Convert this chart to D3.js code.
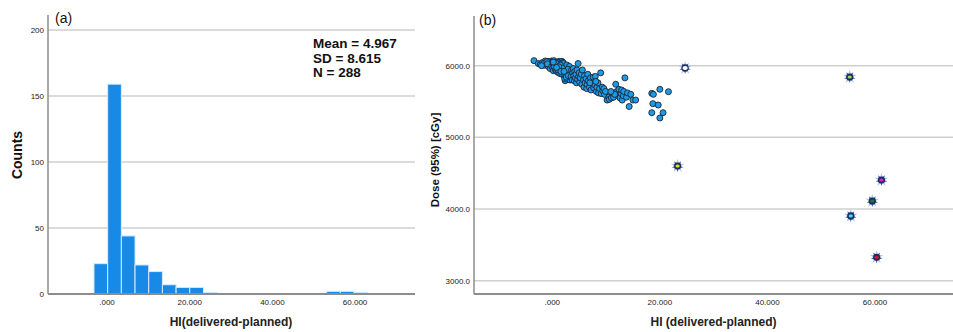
<!DOCTYPE html>
<html><head><meta charset="utf-8">
<script src="https://cdn.jsdelivr.net/npm/d3@7"></script>
<style>body{margin:0;background:#fff}svg{display:block}text{font-family:"Liberation Sans",Arial,sans-serif}</style>
</head><body>
<svg id="c" width="953" height="332"></svg>
<script>
// ---------- Data ----------
// Histogram (a)
const binStart = -3.15, binWidth = 3.31;
const binIndex  = [0, 1, 2, 3, 4, 5, 6, 7, 8, 17, 18, 19];
const binCounts = [23, 159, 44, 22, 17, 7, 5, 5, 1, 2, 2, 1];
const histYTicks = [0, 50, 100, 150, 200];
const xTicks = [0, 20, 40, 60];
const xTickLabels = [".000", "20.000", "40.000", "60.000"];
const statLines = ["Mean = 4.967", "SD = 8.615", "N = 288"];

// Scatter (b): [HI, Dose]
const clusterPoints = [
[-3.4,6070],[-2.6,6030],[-2.2,6020],[-1.8,6045],[-1.5,6005],[-1.3,6065],[-1.1,6040],[-0.9,6010],[-0.8,6060],[-0.6,6030],[-0.5,5995],[-0.4,6050],[-0.3,6015],[-0.2,5975],[-0.1,6040],[-0.7,5985],[-1.6,6030],[-2.0,6000],[-0.2,6065],[-1.0,6055],[-0.4,5960],[-0.9,6025],[-0.1,5990],
[0.1,6060],[0.2,6030],[0.3,6000],[0.1,5970],[0.4,5945],[0.5,6040],[0.3,6070],[0.2,5930],
[0.6,6015],[0.7,5985],[0.8,6050],[0.9,5960],[0.6,5940],[1.0,6030],[0.8,5920],[0.9,6005],
[1.1,5990],[1.2,5950],[1.3,6020],[1.4,5930],[1.1,5905],[1.5,5970],[1.3,6060],[1.2,6045],[1.4,5890],
[1.6,6000],[1.7,5940],[1.8,6060],[1.9,5910],[1.6,5960],[2.0,5985],[1.8,5880],[1.7,6030],[2.0,6045],
[2.1,5950],[2.2,6010],[2.3,5900],[2.4,5970],[2.2,5860],[2.5,5935],[2.1,6030],[2.4,5790],[2.3,5820],
[2.6,5880],[2.7,5990],[2.8,5920],[2.9,5850],[2.6,5950],[3.0,5900],[2.8,5810],[2.7,6010],
[3.1,5960],[3.2,5870],[3.3,5930],[3.1,5830],[3.3,5800],[3.2,5990],[3.4,5890],
[0.4,5990],[0.7,6035],[1.0,5945],[1.5,6010],[1.9,5965],[2.5,5880],[2.9,5950],[0.2,6050],[1.2,5985],[2.6,5840],[3.0,5860],[0.8,5975],[1.6,5920],[2.2,5920],
[3.5,5850],[3.6,5940],[3.7,5800],[3.8,5900],[3.9,5960],[4.0,5860],[4.1,5790],[4.2,5920],[4.3,5830],[4.4,5880],[4.5,5760],[4.6,5940],[4.7,5810],[4.8,6030],[4.9,5850],[5.0,5900],[5.1,5770],[5.2,5830],[5.4,5880],[5.5,5740],[5.6,5940],[5.8,5800],[5.9,5700],[6.0,5860],[6.1,5760],[6.3,5820],[6.4,5680],[6.5,5740],[6.6,5880],[6.7,5790],
[6.9,5700],[7.1,5830],[7.2,5660],[7.4,5760],[7.6,5840],[7.7,5690],[7.9,5730],[8.0,5850],[8.2,5640],[8.3,5700],[8.5,5760],[8.6,5620],[8.8,5680],[9.0,5900],[9.1,5610],[9.3,5700],[9.4,5650],[9.6,5680],[9.7,5600],[9.9,5640],[7.0,5760],[8.1,5780],
[10.2,5520],[10.5,5560],[10.6,5530],[11.0,5550],[11.4,5560],[11.8,5740],[12.0,5640],[12.2,5580],[12.4,5670],[12.6,5550],[12.8,5610],[12.9,5660],[13.0,5520],[13.2,5580],[13.3,5640],[11.6,5600],[10.9,5640],
[13.5,5830],[13.8,5560],[14.0,5620],[14.3,5430],[14.6,5600],[15.0,5520],[15.5,5520],
[18.5,5614],[18.8,5600],[18.7,5470],[19.7,5451],[18.5,5344],[20.0,5670],[20.0,5270],
[20.6,5344],[21.6,5637]
];
const outlierPoints = [[24.7,5968],[55.3,5842],[23.3,4600],[61.2,4405],[59.5,4112],[55.5,3903],[60.3,3327]];
const outlierColors = ["#ffffff","#9be23c","#f2e10a","#e21fd6","#1d7a2e","#33e2f2","#e8141c"];
const scatYTicks = [3000, 4000, 5000, 6000];

// ---------- Drawing ----------
const svg = d3.select("#c");
const gridCol = "#cfcfcf", axisCol = "#8c8c8c";

// ===== Panel (a) =====
const xa = d3.scaleLinear().domain([-14.27, 74.49]).range([48, 415]);
const ya = d3.scaleLinear().domain([0, 211.4]).range([294, 15]);
const A = svg.append("g");
A.selectAll(".g").data(histYTicks.filter(d=>d>0)).join("line")
  .attr("x1", 48).attr("x2", 415).attr("y1", d=>ya(d)).attr("y2", d=>ya(d))
  .attr("stroke", gridCol).attr("stroke-width", 1.5);
A.selectAll(".bar").data(binIndex).join("rect")
  .attr("x", (d)=>xa(binStart + d*binWidth))
  .attr("width", xa(binWidth) - xa(0))
  .attr("y", (d,i)=>ya(binCounts[i]))
  .attr("height", (d,i)=>ya(0)-ya(binCounts[i]))
  .attr("fill", "#1789e6").attr("stroke", "#d6ebfb").attr("stroke-width", 1);
A.append("line").attr("x1",48).attr("x2",48).attr("y1",15).attr("y2",294).attr("stroke",axisCol).attr("stroke-width",1.5);
A.append("line").attr("x1",48).attr("x2",415).attr("y1",294).attr("y2",294).attr("stroke",axisCol).attr("stroke-width",2);
A.selectAll(".yt").data(histYTicks).join("text")
  .attr("x", 44).attr("y", d=>ya(d)+3).attr("text-anchor","end")
  .attr("font-size", 8).attr("fill","#222").text(d=>d);
A.selectAll(".xt").data(xTicks).join("text")
  .attr("x", d=>xa(d)).attr("y", 305).attr("text-anchor","middle")
  .attr("font-size", 8).attr("fill","#222").text((d,i)=>xTickLabels[i]);
A.append("text").attr("x",55).attr("y",23).attr("font-size",14).attr("fill","#111").text("(a)");
A.append("text").attr("transform","translate(22,155) rotate(-90)").attr("text-anchor","middle")
  .attr("font-size",14).attr("font-weight","bold").attr("fill","#111").text("Counts");
A.append("text").attr("x",231).attr("y",326).attr("text-anchor","middle")
  .attr("font-size",12).attr("font-weight","bold").attr("fill","#222").text("HI(delivered-planned)");
A.selectAll(".st").data(statLines).join("text")
  .attr("x",313).attr("y",(d,i)=>48+i*14.5)
  .attr("font-size",13.5).attr("font-weight","bold").attr("fill","#111").text(d=>d);

// ===== Panel (b) =====
const xb = d3.scaleLinear().domain([-14.55, 74.5]).range([474, 953]);
const yb = d3.scaleLinear().domain([2814.4, 6693]).range([294, 16]);
const B = svg.append("g");
B.selectAll(".g").data(scatYTicks).join("line")
  .attr("x1", 474).attr("x2", 953).attr("y1", d=>yb(d)).attr("y2", d=>yb(d))
  .attr("stroke", gridCol).attr("stroke-width", 1.5);
B.append("line").attr("x1",474).attr("x2",474).attr("y1",16).attr("y2",294).attr("stroke",axisCol).attr("stroke-width",1.5);
B.append("line").attr("x1",474).attr("x2",953).attr("y1",294).attr("y2",294).attr("stroke",axisCol).attr("stroke-width",2);
B.selectAll(".pt").data(clusterPoints).join("circle")
  .attr("cx", d=>xb(d[0])).attr("cy", d=>yb(d[1])).attr("r", 3)
  .attr("fill", "#1d9be9").attr("stroke", "#1b2430").attr("stroke-width", 0.9);
const og = B.selectAll(".out").data(outlierPoints).join("g")
  .attr("transform", d=>`translate(${xb(d[0])},${yb(d[1])})`);
og.append("path").attr("d", d3.symbol().type(d3.symbolStar).size(55)).attr("fill","#9bb6e2").attr("opacity",0.8);
og.append("path").attr("d", d3.symbol().type(d3.symbolStar).size(40)).attr("fill","#3a5aa6").attr("transform","rotate(36)");
og.append("circle").attr("r",3.6).attr("fill","#1d2c66");
og.append("ellipse").attr("rx",(d,i)=>i===0?2.6:2.1).attr("ry",(d,i)=>i===0?2:1.6).attr("fill",(d,i)=>outlierColors[i]);
B.selectAll(".yt").data(scatYTicks).join("text")
  .attr("x", 470).attr("y", d=>yb(d)+3).attr("text-anchor","end")
  .attr("font-size", 8).attr("fill","#222").text(d=>d.toFixed(1));
B.selectAll(".xt").data(xTicks).join("text")
  .attr("x", d=>xb(d)).attr("y", 305).attr("text-anchor","middle")
  .attr("font-size", 8).attr("fill","#222").text((d,i)=>xTickLabels[i]);
B.append("text").attr("x",479).attr("y",25).attr("font-size",14).attr("fill","#111").text("(b)");
B.append("text").attr("transform","translate(439,160) rotate(-90)").attr("text-anchor","middle")
  .attr("font-size",11.5).attr("font-weight","bold").attr("fill","#111").text("Dose (95%) [cGy]");
B.append("text").attr("x",713.5).attr("y",326).attr("text-anchor","middle")
  .attr("font-size",12).attr("font-weight","bold").attr("fill","#222").text("HI (delivered-planned)");
</script>
</body></html>
